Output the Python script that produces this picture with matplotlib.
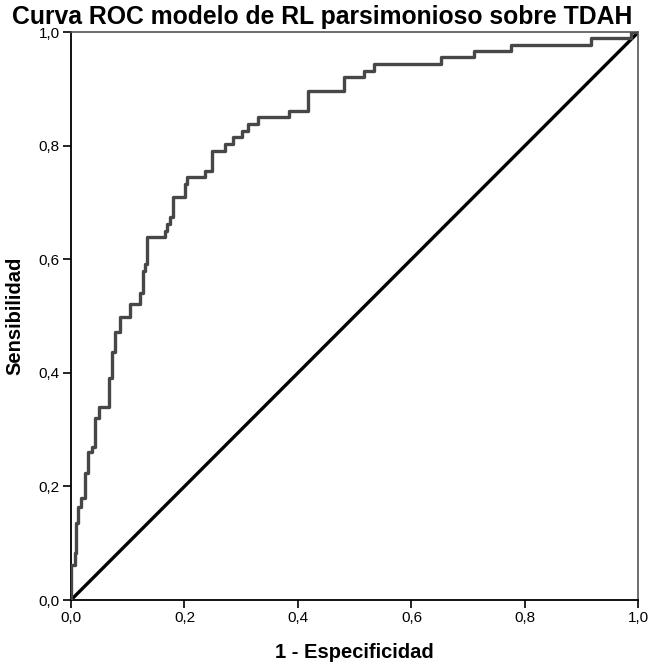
import matplotlib
matplotlib.use("Agg")
import matplotlib.pyplot as plt
from matplotlib.ticker import FuncFormatter

plt.rcParams['font.family'] = ['Liberation Sans', 'DejaVu Sans']

# ROC curve (step points: x of each rise, level before the rise)
fpr = [0.000, 0.0065, 0.0088, 0.0129, 0.0171, 0.0247, 0.0306, 0.0366, 0.0424, 0.0495,
       0.0671, 0.0719, 0.0777, 0.0866, 0.1042, 0.1219, 0.1272, 0.1307, 0.1343, 0.1661,
       0.1696, 0.1749, 0.1802, 0.2014, 0.2049, 0.2367, 0.2486, 0.2721, 0.2862, 0.3021,
       0.3127, 0.3304, 0.3834, 0.4170, 0.4806, 0.5159, 0.5336, 0.6519, 0.7102, 0.7756,
       0.9170, 0.9876, 1.0]
tpr = [0.0, 0.0617, 0.0829, 0.1358, 0.1640, 0.1799, 0.2240, 0.2610, 0.2698, 0.3210,
       0.3404, 0.3915, 0.4374, 0.4727, 0.4974, 0.5203, 0.5414, 0.5785, 0.5908, 0.6384,
       0.6490, 0.6614, 0.6737, 0.7090, 0.7319, 0.7443, 0.7549, 0.7901, 0.8025, 0.8148,
       0.8254, 0.8377, 0.8501, 0.8607, 0.8959, 0.9206, 0.9312, 0.9436, 0.9559, 0.9665,
       0.9771, 0.9894, 1.0]
ticks = [0.0, 0.2, 0.4, 0.6, 0.8, 1.0]

fig = plt.figure(figsize=(6.5, 6.63), dpi=100)
ax = fig.add_axes([0.1092, 0.0950, 0.8731, 0.8567])

ax.plot([0, 1], [0, 1], color='black', lw=2.4, solid_capstyle='butt', zorder=2)
ax.step(fpr, tpr, where='pre', color='#474747', lw=2.4, zorder=3)

ax.set_xlim(0, 1)
ax.set_ylim(0, 1)
ax.set_xticks(ticks)
ax.set_yticks(ticks)
fmt = FuncFormatter(lambda v, p: f"{v:.1f}".replace('.', ','))
ax.xaxis.set_major_formatter(fmt)
ax.yaxis.set_major_formatter(fmt)
ax.tick_params(direction='out', length=6, width=1.2, labelsize=11, pad=2, color='black')

for s in ['top', 'right']:
    ax.spines[s].set_color('#555555')
    ax.spines[s].set_linewidth(1.2)
for s in ['bottom', 'left']:
    ax.spines[s].set_color('black')
    ax.spines[s].set_linewidth(1.3)

ax.set_xlabel('1 - Especificidad', fontsize=14.5, fontweight='bold', labelpad=13)
ax.set_ylabel('Sensibilidad', fontsize=14.5, fontweight='bold', labelpad=10)
fig.text(12 / 650, 1 - 24 / 663, 'Curva ROC modelo de RL parsimonioso sobre TDAH',
         fontsize=17.8, fontweight='bold', ha='left', va='baseline')

fig.savefig('out.png', dpi=100)
